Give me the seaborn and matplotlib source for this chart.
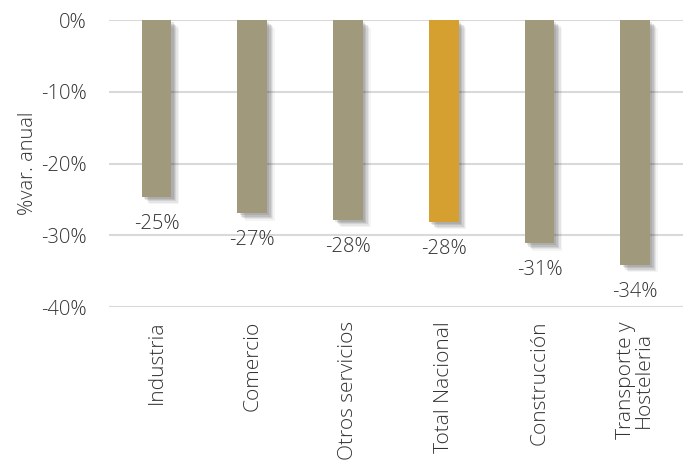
import matplotlib
matplotlib.use("Agg")
import matplotlib.pyplot as plt
import matplotlib.patheffects as pe
import seaborn as sns
import pandas as pd
from matplotlib.ticker import FuncFormatter

categories = ["Industria", "Comercio", "Otros servicios", "Total Nacional", "Construcción", "Transporte y\nHosteleria"]
values = [-24.6, -26.9, -27.8, -28.1, -31.1, -34.1]
highlight = "Total Nacional"
yticks = [0, -10, -20, -30, -40]

sns.set_theme(style="white")
plt.rcParams["font.family"] = ["Open Sans", "DejaVu Sans"]
plt.rcParams["font.weight"] = "light"
plt.rcParams["axes.labelweight"] = "light"

df = pd.DataFrame({"cat": categories, "val": values})
tan = "#A0997B"
gold = "#D6A030"
palette = {c: (gold if c == highlight else tan) for c in categories}

fig = plt.figure(figsize=(6.88, 4.66), dpi=100)
ax = fig.add_axes([0.158, 0.341, 0.835, 0.616])

sns.barplot(data=df, x="cat", y="val", hue="cat", palette=palette, legend=False,
            width=0.31, ax=ax, saturation=1, zorder=3)

shadow = []
for off, a in [((1.5, -1.5), 0.12), ((2.5, -2.5), 0.12), ((3.5, -3.5), 0.1), ((4.5, -4.5), 0.08), ((5.5, -5.5), 0.05)]:
    shadow.append(pe.SimplePatchShadow(offset=off, shadow_rgbFace="#333333", alpha=a))
for p in ax.patches:
    p.set_path_effects(shadow + [pe.Normal()])
    p.set_linewidth(0)

for i, v in enumerate(values):
    ax.annotate(f"{v:.0f}%", xy=(i, v), xytext=(0, -17), textcoords="offset pixels",
                ha="center", va="top", fontsize=14.5, color="#333333")

ax.set_ylim(-40, 0)
ax.set_xlim(-0.5, len(categories) - 0.5)
ax.set_yticks(yticks)
ax.yaxis.set_major_formatter(FuncFormatter(lambda y, _: f"{y:.0f}%"))
ax.yaxis.grid(True, color="#D9D9D9", linewidth=1.5, zorder=0)
ax.set_axisbelow(True)
for s in ax.spines.values():
    s.set_visible(False)
ax.set_xlabel("")
ax.set_ylabel("%var. anual", fontsize=14.5, color="#333333", labelpad=2, fontweight="light")
ax.tick_params(axis="y", labelsize=14.5, labelcolor="#333333", length=0, pad=16)
ax.tick_params(axis="x", labelsize=15, labelcolor="#333333", length=0, pad=10)
plt.setp(ax.get_xticklabels(), rotation=90, ha="center", va="top", linespacing=0.85)
for t in ax.texts:
    t.set_clip_on(False)

fig.savefig("out.png", dpi=100)
